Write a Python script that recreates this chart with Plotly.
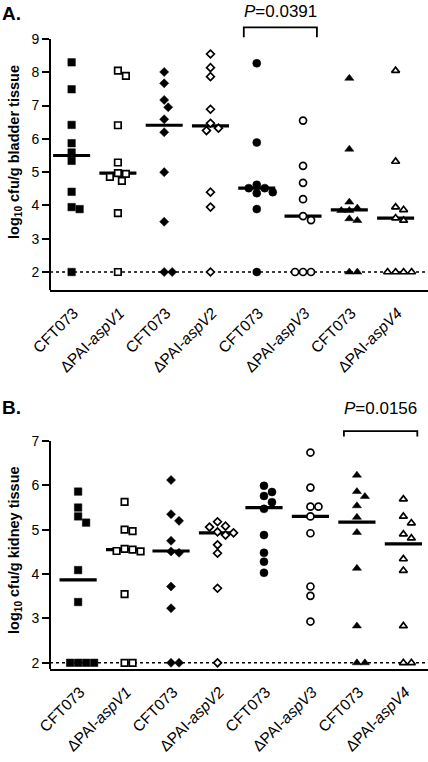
import plotly.graph_objects as go

# ---------------- data ----------------
categories = ["CFT073", "ΔPAI-<i>aspV1</i>", "CFT073", "ΔPAI-<i>aspV2</i>",
              "CFT073", "ΔPAI-<i>aspV3</i>", "CFT073", "ΔPAI-<i>aspV4</i>"]
y_ticks_bladder = [2, 3, 4, 5, 6, 7, 8, 9]
y_ticks_kidney = [2, 3, 4, 5, 6, 7]
detection_limit = 2

bladder = [
    [8.30, 7.49, 6.42, 5.87, 5.59, 5.34, 4.41, 3.95, 3.89, 2],
    [8.05, 7.89, 6.41, 5.29, 4.97, 4.95, 4.86, 4.74, 3.77, 2],
    [8.01, 7.67, 7.17, 6.95, 6.59, 6.20, 5.00, 3.51, 2, 2],
    [8.55, 8.14, 7.87, 6.89, 6.47, 6.32, 6.25, 4.40, 3.95, 2],
    [8.27, 5.89, 4.62, 4.52, 4.52, 4.40, 4.37, 3.89, 2],
    [6.55, 5.19, 4.68, 4.19, 3.68, 3.56, 2, 2, 2],
    [7.82, 5.69, 4.10, 3.92, 3.85, 3.85, 3.60, 3.55, 2, 2],
    [8.05, 5.32, 3.95, 3.87, 3.62, 3.55, 2, 2, 2, 2],
]
bladder_medians = [5.50, 4.97, 6.41, 6.39, 4.52, 3.68, 3.87, 3.62]

kidney = [
    [5.86, 5.50, 5.30, 5.16, 4.09, 3.37, 2, 2, 2, 2],
    [5.63, 5.00, 4.97, 4.57, 4.55, 4.52, 4.51, 3.55, 2, 2],
    [6.12, 5.35, 5.20, 4.75, 4.51, 4.48, 3.72, 3.23, 2, 2],
    [5.18, 5.08, 5.06, 4.95, 4.93, 4.88, 4.66, 4.47, 3.68, 2],
    [5.99, 5.85, 5.76, 5.62, 5.47, 4.88, 4.48, 4.28, 4.03],
    [6.74, 5.95, 5.52, 5.52, 5.30, 4.92, 3.72, 3.51, 2.93],
    [6.23, 5.86, 5.75, 5.54, 5.28, 4.94, 4.13, 2.83, 2, 2],
    [5.69, 5.30, 5.15, 4.90, 4.81, 4.34, 4.08, 2.83, 2, 2],
]
kidney_medians = [3.87, 4.55, 4.52, 4.93, 5.50, 5.30, 5.17, 4.68]

p_bladder = {"pair": (4, 5), "text": "<i>P</i>=0.0391"}
p_kidney = {"pair": (6, 7), "text": "<i>P</i>=0.0156"}

# ---------------- style ----------------
FONT = "Liberation Sans, Arial, Helvetica, sans-serif"
W, H = 428, 762
symbols = ["square", "square", "diamond", "diamond", "circle", "circle",
           "triangle-up", "triangle-up"]
filled = [True, False, True, False, True, False, True, False]
sizes = {"square": 7.5, "diamond": 7, "circle": 8, "triangle-up": 8}

# panel geometry (pixels)
x_left_px = 50
panelA = dict(top=25.7, bottom=290, yr=[1.46, 9.4], xr=[-0.467, 7.70])
panelB = dict(top=427.7, bottom=669, yr=[1.86, 7.3], xr=[-0.605, 7.53])


def dodge(vals, ppx, ppy, d=8.0, step=4.0):
    order = sorted(range(len(vals)), key=lambda i: -vals[i])
    placed, offs = [], [0.0] * len(vals)
    cands = [0.0] + [s * j * step for j in range(1, 25) for s in (1, -1)]
    for i in order:
        yp = vals[i] * ppy
        chosen = 0.0
        for c in cands:
            if all((c - px) ** 2 + (yp - py) ** 2 >= d * d - 1e-6 for px, py in placed):
                chosen = c
                break
        placed.append((chosen, yp))
        offs[i] = chosen / ppx
    return offs


fig = go.Figure()


def add_panel(data, medians, panel, xa, ya, pinfo):
    plot_w = W - x_left_px
    ppx = plot_w / (panel["xr"][1] - panel["xr"][0])
    ppy = (panel["bottom"] - panel["top"]) / (panel["yr"][1] - panel["yr"][0])
    mx, my = [], []
    for i, m in enumerate(medians):
        mx += [i - 0.4, i + 0.4, None]
        my += [m, m, None]
    fig.add_trace(go.Scatter(x=mx, y=my, mode="lines", xaxis=xa, yaxis=ya,
                             line=dict(color="black", width=3.2),
                             hoverinfo="skip", showlegend=False))
    for i, vals in enumerate(data):
        offs = dodge(vals, ppx, ppy)
        sym = symbols[i]
        sz = sizes[sym]
        if filled[i]:
            marker = dict(symbol=sym, size=sz, color="black",
                          line=dict(color="black", width=0.5))
        else:
            marker = dict(symbol=sym, size=sz - 1, color="white",
                          line=dict(color="black", width=1.7))
        fig.add_trace(go.Scatter(x=[i + o for o in offs], y=vals, mode="markers",
                                 xaxis=xa, yaxis=ya, marker=marker,
                                 cliponaxis=False, showlegend=False))
    a, b = pinfo["pair"]
    return a - 0.28, b + 0.30


ax0, ax1 = add_panel(bladder, bladder_medians, panelA, "x", "y", p_bladder)
bx0, bx1 = add_panel(kidney, kidney_medians, panelB, "x2", "y2", p_kidney)

shapes = []
annotations = []

# brackets
brA_top, brA_leg = 9.35, 9.05
shapes.append(dict(type="path", xref="x", yref="y",
                   path=f"M{ax0},{brA_leg} L{ax0},{brA_top} L{ax1},{brA_top} L{ax1},{brA_leg}",
                   line=dict(color="black", width=1.8)))
annotations.append(dict(x=(ax0 + ax1) / 2, y=1.053, xref="x", yref="y domain",
                        text=p_bladder["text"], showarrow=False,
                        font=dict(family=FONT, size=17, color="black"),
                        xanchor="center", yanchor="middle"))
brB_top, brB_leg = 7.225, 7.10
shapes.append(dict(type="path", xref="x2", yref="y2",
                   path=f"M{bx0},{brB_leg} L{bx0},{brB_top} L{bx1},{brB_top} L{bx1},{brB_leg}",
                   line=dict(color="black", width=1.8)))
annotations.append(dict(x=(bx0 + bx1) / 2, y=1.080, xref="x2", yref="y2 domain",
                        text=p_kidney["text"], showarrow=False,
                        font=dict(family=FONT, size=17, color="black"),
                        xanchor="center", yanchor="middle"))

# y-axis lines (drawn only up to the top tick) and detection limit lines
for xr_, yr_, top_tick, rng in (("x", "y", 9, panelA["yr"]), ("x2", "y2", 7, panelB["yr"])):
    shapes.append(dict(type="line", xref=f"{xr_} domain", yref=yr_, x0=0, x1=0,
                       y0=rng[0], y1=top_tick, line=dict(color="black", width=2)))
    shapes.append(dict(type="line", xref=f"{xr_} domain", yref=yr_, x0=0, x1=1,
                       y0=detection_limit, y1=detection_limit, layer="below",
                       line=dict(color="black", width=1.5, dash="dot")))

# panel letters
annotations.append(dict(x=0.0, y=1 - 1 / H, xref="paper", yref="paper", text="<b>A.</b>",
                        showarrow=False, xanchor="left", yanchor="top",
                        font=dict(family=FONT, size=19, color="black")))
annotations.append(dict(x=0.0, y=1 - 395 / H, xref="paper", yref="paper", text="<b>B.</b>",
                        showarrow=False, xanchor="left", yanchor="top",
                        font=dict(family=FONT, size=19, color="black")))
# y titles
annotations.append(dict(x=15 / W, y=1 - 152 / H, xref="paper", yref="paper",
                        text="<b>log<sub>10</sub> cfu/g bladder tissue</b>", textangle=-90,
                        showarrow=False, xanchor="center", yanchor="middle",
                        font=dict(family=FONT, size=14.5, color="black")))
annotations.append(dict(x=15 / W, y=1 - 550 / H, xref="paper", yref="paper",
                        text="<b>log<sub>10</sub> cfu/g kidney tissue</b>", textangle=-90,
                        showarrow=False, xanchor="center", yanchor="middle",
                        font=dict(family=FONT, size=14.5, color="black")))

xdom = [x_left_px / W, 1.0]


def ydom(p):
    return [1 - p["bottom"] / H, 1 - p["top"] / H]


xaxis_common = dict(domain=xdom, showline=True, linecolor="black", linewidth=2,
                    ticks="", showgrid=False, zeroline=False, automargin=False,
                    tickmode="array", tickvals=list(range(len(categories))),
                    ticktext=categories, tickangle=-45,
                    ticklabelshift=2, ticklabelstandoff=6,
                    tickfont=dict(family=FONT, size=15.5, color="black"))
yaxis_common = dict(showline=False, ticks="outside", ticklen=7, tickwidth=1.5,
                    tickcolor="black", showgrid=False, zeroline=False, automargin=False,
                    tickfont=dict(family=FONT, size=14, color="black"))

fig.update_layout(
    width=W, height=H, margin=dict(l=0, r=0, t=0, b=0, autoexpand=False),
    paper_bgcolor="white", plot_bgcolor="white", showlegend=False,
    font=dict(family=FONT, color="black"),
    xaxis=dict(**xaxis_common, range=panelA["xr"], anchor="y"),
    yaxis=dict(**yaxis_common, domain=ydom(panelA), range=panelA["yr"],
               tickvals=y_ticks_bladder, anchor="x"),
    xaxis2=dict(**xaxis_common, range=panelB["xr"], anchor="y2"),
    yaxis2=dict(**yaxis_common, domain=ydom(panelB), range=panelB["yr"],
                tickvals=y_ticks_kidney, anchor="x2"),
    shapes=shapes, annotations=annotations,
)

fig.write_html("out.html", config={"displayModeBar": False},
               post_script="document.body.style.margin='0';"
                           "document.body.style.overflow='hidden';")
